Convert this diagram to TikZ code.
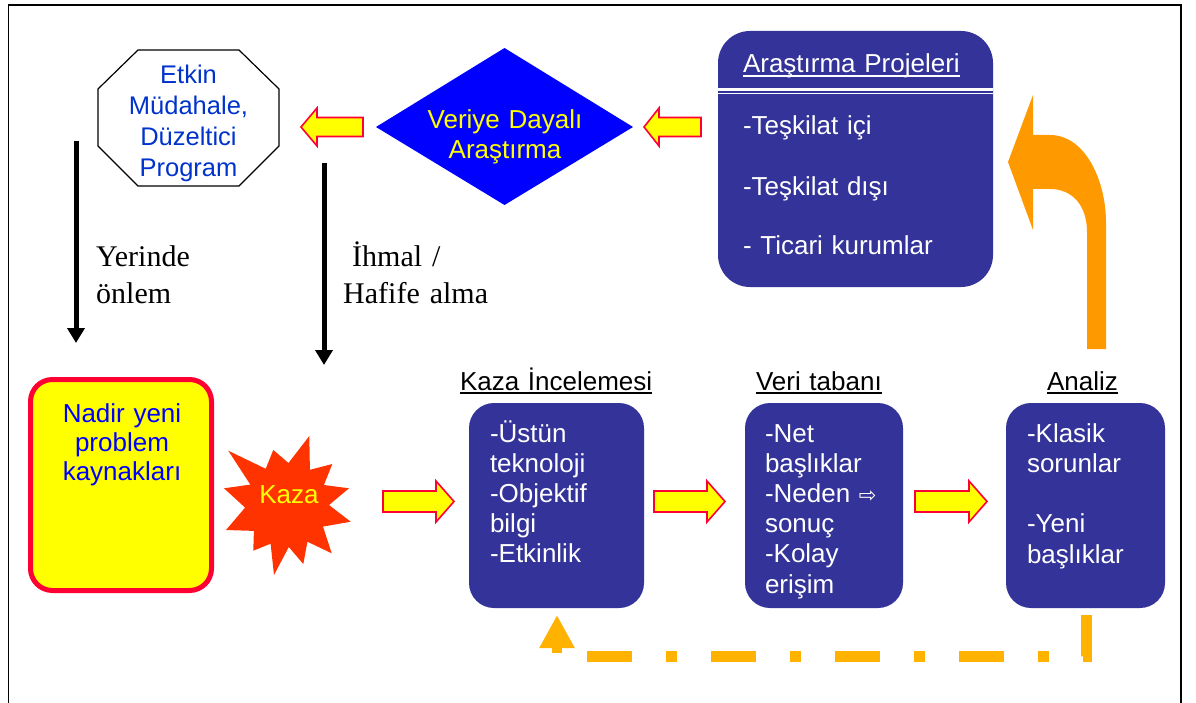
\documentclass[tikz,border=0pt]{standalone}
\usepackage{fontspec}
\setmainfont{Liberation Sans}
\newfontfamily\serifx{Liberation Serif}
\newfontfamily\symx{DejaVu Sans}
\usetikzlibrary{arrows.meta}
\definecolor{boxblue}{RGB}{51,51,153}
\definecolor{dblue}{RGB}{0,0,255}
\definecolor{oblue}{RGB}{0,51,204}
\definecolor{yel}{RGB}{255,255,0}
\definecolor{redb}{RGB}{255,0,51}
\definecolor{kazared}{RGB}{255,51,0}
\definecolor{orangeA}{RGB}{255,153,0}
\definecolor{orangeB}{RGB}{255,179,0}
\newcommand\myul[1]{\setbox0\hbox{#1}\rlap{\rule[-3.6pt]{\wd0}{1.6pt}}\box0}
\newcommand\blockarr[6]{\draw[yarrow] (#1,#4-#5) -- (#2,#4-#5) -- (#2,#4-#6) -- (#3,#4) -- (#2,#4+#6) -- (#2,#4+#5) -- (#1,#4+#5) -- cycle;}
\begin{document}
\begin{tikzpicture}[x=1pt,y=-1pt,
  txt/.style={font=\fontsize{26}{30.2}\selectfont, inner sep=0pt, outer sep=0pt},
  ltext/.style={txt, text width=260pt, align=left, anchor=base west},
  ctext/.style={txt, text width=220pt, align=center, anchor=base},
  bluebox/.style={fill=boxblue, draw=none, rounded corners=25pt, inner sep=0pt},
  yarrow/.style={fill=yel, draw=redb, line width=1.6pt, line join=miter},
  blk/.style={line width=5pt, -{Triangle[length=15pt,width=17pt]}},
  serlabel/.style={font=\serifx\fontsize{30}{36}\selectfont, inner sep=0pt, text width=200pt, align=left, anchor=base west}
]
\useasboundingbox (0,0) rectangle (1196,703);
\fill[white] (0,0) rectangle (1196,703);
% frame
\draw[line width=1.3pt] (8.3,703) -- (8.3,5) -- (1181,5) -- (1181,703);

% octagon
\draw[line width=1.2pt, fill=white] (138,50) -- (239,50) -- (279,89) -- (279,146) -- (239,186) -- (138,186) -- (98,146) -- (98,89) -- cycle;
\node[ctext, text=oblue, font=\fontsize{25.5}{30.7}\selectfont] (octtxt) at (188.5,84) {Etkin\\Müdahale,\\Düzeltici\\Program};

% diamond
\fill[dblue] (376,127) -- (504.5,48) -- (633,127) -- (504.5,205) -- cycle;
\node[ctext, text=yel, font=\fontsize{26}{30}\selectfont] (diatxt) at (505,129) {Veriye Dayalı\\Araştırma};

% research box
\node[bluebox, rounded corners=32pt, minimum width=275pt, minimum height=256pt] (research) at (855.5,159) {};
\draw[white, line width=2.5pt] (718,89.5) -- (993,89.5);
\draw[white, line width=1.2pt] (718,93.8) -- (993,93.8);
\node[ltext, text=white] (restitle) at (743,73) {\myul{Araştırma Projeleri}};
\node[ltext, text=white] (resitems) at (743,135) {-Teşkilat içi\\[30pt]-Teşkilat dışı\\[29pt]- Ticari kurumlar};

% yellow arrows top
\blockarr{363}{317}{301}{127}{9.5}{19}
\blockarr{701}{659}{644}{127}{9.5}{19}

% black arrows
\coordinate (la1) at (76,141); \coordinate (la2) at (76,343);
\draw[blk] (la1) -- (la2);
\coordinate (ra1) at (324,163); \coordinate (ra2) at (324,365);
\draw[blk] (ra1) -- (ra2);
\node[serlabel] (yer) at (96,267) {Yerinde\\önlem};
\node[serlabel] (ihm) at (343,267) {\hspace*{9pt}İhmal /\\Hafife alma};

% Nadir box
\draw[fill=yel, draw=redb, line width=5pt, rounded corners=22pt] (30.5,379.5) rectangle (211.5,590.5);
\node[ctext, text=dblue, font=\fontsize{26}{29}\selectfont] (nadir) at (122,422) {Nadir yeni\\problem\\kaynakları};

% Kaza star
\fill[kazared] (309.3,436) -- (309.9,469.8) -- (332.3,464) -- (323.9,485.0) -- (349,488.3) -- (329,505) -- (350.7,521.7) -- (323.0,526.6) -- (331.7,553.3) -- (307.4,541.7) -- (303.3,564) -- (288.8,547.0) -- (274,575) -- (270.6,543.7) -- (253.3,550.7) -- (253.9,530.9) -- (226,530) -- (245.1,507.6) -- (224,488.3) -- (250.3,484.6) -- (228.3,450.7) -- (265.7,468.8) -- (273.3,450) -- (288.5,463.0) -- cycle;
\node[txt, text=yel, anchor=base] (kaza) at (289,503) {Kaza};

% bottom arrows
\blockarr{383}{436}{454}{501.5}{10.5}{20.5}
\blockarr{654}{707}{725}{501.5}{10.5}{20.5}
\blockarr{915}{969}{987}{501.5}{10.5}{20.5}

% bottom boxes
\node[bluebox, minimum width=175pt, minimum height=205pt] (ince) at (556.5,505.5) {};
\node[bluebox, minimum width=158pt, minimum height=205pt] (veri) at (824,505.5) {};
\node[bluebox, minimum width=159pt, minimum height=205pt] (analiz) at (1085.5,505.5) {};

\node[ltext] (incelbl) at (460,390) {\myul{Kaza İncelemesi}};
\node[ltext] (verilbl) at (756,390) {\myul{Veri tabanı}};
\node[ltext] (anlbl) at (1047,390) {\myul{Analiz}};

\node[ltext, text=white] (incetxt) at (490,442) {-Üstün\\teknoloji\\-Objektif\\bilgi\\-Etkinlik};
\node[ltext, text=white] (veritxt) at (765,442) {-Net\\başlıklar\\-Neden {\symx\fontsize{21}{21}\selectfont ⇨}\\sonuç\\-Kolay\\erişim};
\node[ltext, text=white] (antxt) at (1027,442) {-Klasik\\sorunlar\\[30.5pt]-Yeni\\başlıklar};

% curved orange arrow (Analiz -> research)
\fill[orangeA] (1106,349) -- (1106,223) .. controls (1106,180) and (1085,135) .. (1050,135) -- (1033,135) -- (1033,95) -- (1008,162) -- (1033,230) -- (1033,189) -- (1050,189) .. controls (1072,189) and (1087,205) .. (1087,232) -- (1087,349) -- cycle;

% dashed feedback connector (Analiz -> Kaza Incelemesi)
\coordinate (dA) at (1086,615); \coordinate (dB) at (1086,656.5); \coordinate (dC) at (587,656.5);
\draw[orangeB, line width=11pt, dash pattern=on 45pt off 34pt on 11pt off 34pt] (dC) -- (dB) -- (dA);
\coordinate (hA) at (557,653); \coordinate (hB) at (557,615);
\draw[orangeB, line width=10pt, -{Triangle[length=33pt,width=33pt]}] (hA) -- (hB);
\end{tikzpicture}
\end{document}
